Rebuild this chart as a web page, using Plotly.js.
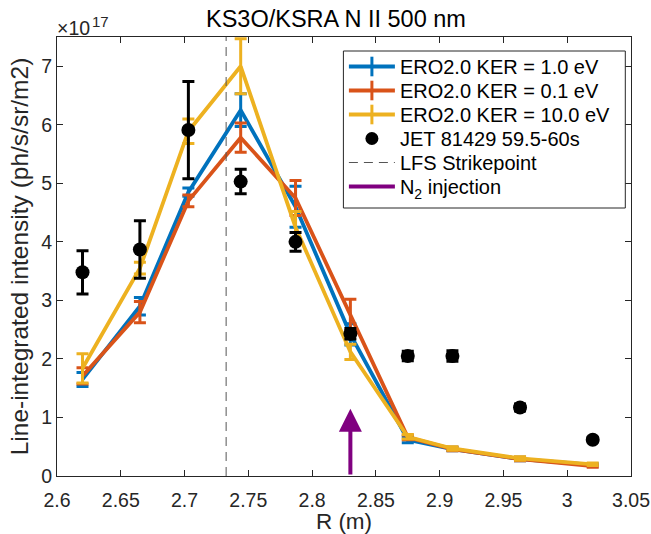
<!DOCTYPE html>
<html>
<head>
<meta charset="utf-8">
<script src="https://cdn.plot.ly/plotly-3.0.1.min.js"></script>
<style>html,body{margin:0;padding:0;background:#fff;}#chart{width:651px;height:534px;}</style>
</head>
<body>
<div id="chart"></div>
<script>
// R positions (m)
const R = [2.62, 2.665, 2.703, 2.744, 2.787, 2.83, 2.875, 2.91, 2.963, 3.02];
// Intensities in units of 1e17 ph/s/sr/m2
const ker1 = [1.65, 2.90, 4.85, 6.25, 4.60, 2.42, 0.62, 0.46, 0.29, 0.19];
const ker1Err = [0.12, 0.15, 0.07, 0.28, 0.35, 0.18, 0.05, 0.03, 0.03, 0.02];
const ker01 = [1.71, 2.80, 4.70, 5.78, 4.75, 2.75, 0.66, 0.46, 0.29, 0.17];
const ker01Err = [0.14, 0.18, 0.10, 0.25, 0.30, 0.27, 0.04, 0.03, 0.03, 0.02];
const ker10 = [1.84, 3.55, 5.89, 7.00, 4.25, 2.12, 0.67, 0.47, 0.30, 0.20];
const ker10Err = [0.25, 0.10, 0.21, 0.47, 0.27, 0.13, 0.04, 0.03, 0.03, 0.02];
const jet = [3.48, 3.87, 5.91, 5.03, 4.00, 2.43, 2.05, 2.05, 1.17, 0.62];
const jetErr = [0.37, 0.49, 0.83, 0.21, 0.16, 0.09, 0.08, 0.09, 0.06, 0.04];
const strikeR = 2.7326;
const strikeY = [0, 7.5];
const n2R = 2.83;
const n2ArrowY = [0, 1.15];
const xTicks = [2.6, 2.65, 2.7, 2.75, 2.8, 2.85, 2.9, 2.95, 3, 3.05];
const xTickText = ["2.6", "2.65", "2.7", "2.75", "2.8", "2.85", "2.9", "2.95", "3", "3.05"];
const yTicks = [0, 1, 2, 3, 4, 5, 6, 7];
const names = ["ERO2.0 KER = 1.0 eV", "ERO2.0 KER = 0.1 eV", "ERO2.0 KER = 10.0 eV", "JET 81429 59.5-60s", "LFS Strikepoint", "N<sub>2</sub> injection"];

const FONT = "Liberation Sans, Arial, Helvetica, sans-serif";
const cBlue = "#0072BD", cOrange = "#D95319", cYellow = "#EDB120", cPurple = "#800080";

// plot area geometry (px) used to place legend rows
const W = 651, H = 534, ML = 56.5, MR = 20.3, MT = 37, MB = 58;
const PW = W - ML - MR, PH = H - MT - MB;
const px2x = p => (p - ML) / PW;
const py2y = p => (H - MB - p) / PH;
const legendIds = ["legend", "legend2", "legend3", "legend4", "legend5", "legend6"];
const rowPx = [66.5, 90.5, 114.5, 138.5, 162.5, 186.5];

function model(y, e, color, name) {
  return {
    x: R, y: y, type: "scatter", mode: "lines", name: name,
    line: {color: color, width: 3.8},
    error_y: {type: "data", array: e, visible: true, color: color, thickness: 3, width: 6},
    showlegend: false
  };
}
function legendModel(color, name, lg) {
  return {
    x: [null], y: [null], type: "scatter", mode: "lines+markers", name: name, legend: lg,
    line: {color: color, width: 3.8},
    marker: {symbol: "line-ns-open", size: 14, color: color, line: {color: color, width: 3}}
  };
}

const traces = [
  model(ker1, ker1Err, cBlue, names[0]),
  model(ker01, ker01Err, cOrange, names[1]),
  model(ker10, ker10Err, cYellow, names[2]),
  {
    x: R, y: jet, type: "scatter", mode: "markers", name: names[3],
    marker: {symbol: "circle", size: 14, color: "#000"},
    error_y: {type: "data", array: jetErr, visible: true, color: "#000", thickness: 3, width: 6},
    showlegend: false
  },
  {
    x: [strikeR, strikeR], y: strikeY, type: "scatter", mode: "lines", name: names[4],
    line: {color: "#555", width: 1, dash: "9px,6px"}, legend: legendIds[4]
  },
  legendModel(cBlue, names[0], legendIds[0]),
  legendModel(cOrange, names[1], legendIds[1]),
  legendModel(cYellow, names[2], legendIds[2]),
  {x: [null], y: [null], type: "scatter", mode: "markers", name: names[3], legend: legendIds[3],
   marker: {symbol: "circle", size: 13, color: "#000"}},
  {x: [null], y: [null], type: "scatter", mode: "lines", name: names[5], legend: legendIds[5],
   line: {color: cPurple, width: 3.8}}
];

const layout = {
  width: W, height: H,
  margin: {l: ML, r: MR, t: MT, b: MB, pad: 0},
  paper_bgcolor: "#fff", plot_bgcolor: "#fff",
  font: {family: FONT, size: 19, color: "#262626"},
  title: {text: "KS3O/KSRA N II 500 nm", font: {family: FONT, size: 23.5, color: "#000"},
          x: 0.486, xref: "paper", xanchor: "center", y: 1 - 19/534, yref: "container", yanchor: "middle"},
  xaxis: {
    range: [2.6, 3.05], tickvals: xTicks, ticktext: xTickText,
    ticks: "inside", ticklen: 6, tickcolor: "#262626", tickwidth: 1,
    showline: true, linecolor: "#262626", linewidth: 1, mirror: "ticks",
    showgrid: false, zeroline: false, ticklabelstandoff: 7,
    tickfont: {family: FONT, size: 19.5, color: "#262626"},
    title: {text: "R (m)", font: {family: FONT, size: 22.5, color: "#262626"}, standoff: 2}
  },
  yaxis: {
    range: [0, 7.5], tickvals: yTicks,
    ticks: "inside", ticklen: 6, tickcolor: "#262626", tickwidth: 1,
    showline: true, linecolor: "#262626", linewidth: 1, mirror: "ticks",
    showgrid: false, zeroline: false,
    tickfont: {family: FONT, size: 19.5, color: "#262626"},
    title: {text: "Line-integrated intensity (ph/s/sr/m2)", font: {family: FONT, size: 24.5, color: "#262626"}, standoff: 5}
  },
  showlegend: true,
  shapes: [
    {type: "rect", xref: "paper", yref: "paper", x0: px2x(343), x1: px2x(625), y0: py2y(208), y1: py2y(51),
     fillcolor: "#fff", line: {color: "#262626", width: 1}, layer: "above"}
  ],
  annotations: [
    {x: n2R, y: n2ArrowY[1], ax: n2R, ay: n2ArrowY[0], xref: "x", yref: "y", axref: "x", ayref: "y",
     text: "", showarrow: true, arrowhead: 2, arrowsize: 1.15, arrowwidth: 4, arrowcolor: cPurple, standoff: 0, startstandoff: 0},
    {x: 0, y: 1, xref: "paper", yref: "paper", xanchor: "left", yanchor: "bottom", yshift: -4, xshift: -2,
     text: "×10", showarrow: false, font: {family: FONT, size: 19.5, color: "#262626"}},
    {x: px2x(89.5), y: 1, xref: "paper", yref: "paper", xanchor: "left", yanchor: "bottom", yshift: 5,
     text: "17", showarrow: false, font: {family: FONT, size: 15, color: "#262626"}}
  ]
};
legendIds.forEach((id, i) => {
  layout[id] = {
    x: px2x(343.5), y: py2y(rowPx[i]), xanchor: "left", yanchor: "middle",
    bgcolor: "rgba(0,0,0,0)", borderwidth: 0,
    font: {family: FONT, size: 20, color: "#000"},
    itemwidth: 46
  };
});

Plotly.newPlot("chart", traces, layout, {displayModeBar: false, staticPlot: true});
</script>
</body>
</html>
